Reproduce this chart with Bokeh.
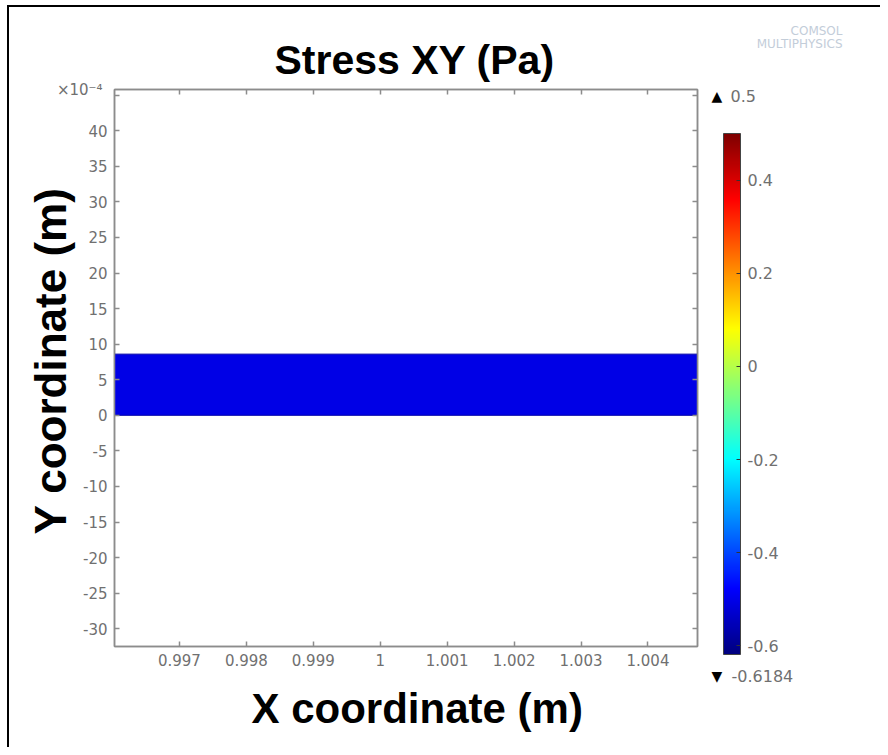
import numpy as np
from bokeh.plotting import figure
from bokeh.models import (LinearAxis, FixedTicker, CustomJSTickFormatter, ColorBar,
                          LinearColorMapper, Label, Range1d, Title)
from bokeh.embed import file_html
from bokeh.resources import INLINE

# ---------------- data ----------------
title_text = "Stress XY (Pa)"
x_label = "X coordinate (m)"
y_label = "Y coordinate (m)"
y_exponent = "×10⁻⁴"
watermark = "COMSOL\nMULTIPHYSICS"

x_ticks = [0.997, 0.998, 0.999, 1.0, 1.001, 1.002, 1.003, 1.004]
y_ticks = [-30, -25, -20, -15, -10, -5, 0, 5, 10, 15, 20, 25, 30, 35, 40, 45]  # ×1e-4 m
x_view = [0.99603, 1.00474]
y_view = [-32.5, 45.8]  # ×1e-4 m

beam_left = [0.995]
beam_right = [1.005]
beam_bottom = [0.0]
beam_top = [8.6]  # ×1e-4 m
beam_color = "#0000e6"

stress_min = -0.6184
stress_max = 0.5
cbar_ticks = [-0.6, -0.4, -0.2, 0.0, 0.2, 0.4]
stress_max_label = "0.5"
stress_min_label = "-0.6184"

GRAY = "#707070"
LINE = "#8c8c8c"


def jet(n=256):
    cols = []
    for i in range(n):
        t = i / (n - 1)
        r = np.clip(1.5 - abs(4 * t - 3), 0, 1)
        g = np.clip(1.5 - abs(4 * t - 2), 0, 1)
        b = np.clip(1.5 - abs(4 * t - 1), 0, 1)
        cols.append("#%02x%02x%02x" % (int(r * 255), int(g * 255), int(b * 255)))
    return cols


p = figure(width=880, height=747,
           x_range=Range1d(*x_view), y_range=Range1d(*y_view),
           output_backend="svg", toolbar_location=None,
           min_border_left=114, min_border_right=183,
           min_border_top=88, min_border_bottom=101,
           title=None)
p.styles = {"background": "linear-gradient(#000,#000) 7px 5px / 2px 100% no-repeat, "
                          "linear-gradient(#000,#000) 7px 5px / 100% 2px no-repeat, #fff"}
p.grid.visible = False
p.outline_line_color = LINE
p.outline_line_width = 1.5
p.background_fill_color = "white"
p.border_fill_color = None

def style_axis(ax, ticks):
    ax.ticker = FixedTicker(ticks=ticks)
    ax.major_tick_in = 5
    ax.major_tick_out = 0
    ax.minor_tick_line_color = None
    ax.major_tick_line_color = LINE
    ax.major_tick_line_width = 1.5
    ax.axis_line_color = LINE
    ax.axis_line_width = 1.5
    ax.major_label_text_font = "DejaVu Sans"
    ax.major_label_text_font_size = "15px"
    ax.major_label_text_color = GRAY
    ax.major_label_standoff = 7

style_axis(p.xaxis[0], x_ticks)
style_axis(p.yaxis[0], y_ticks)
p.xaxis[0].formatter = CustomJSTickFormatter(code="return parseFloat(tick.toFixed(3)).toString();")
p.yaxis[0].formatter = CustomJSTickFormatter(code="return tick > 44 ? '' : tick.toFixed(0);")

top_ax = LinearAxis()
style_axis(top_ax, x_ticks)
top_ax.major_label_text_font_size = "0px"
top_ax.major_label_standoff = 0
top_ax.formatter = CustomJSTickFormatter(code="return '';")
p.add_layout(top_ax, "above")

right_ax = LinearAxis()
style_axis(right_ax, y_ticks)
right_ax.major_label_text_font_size = "0px"
right_ax.major_label_standoff = 0
right_ax.formatter = CustomJSTickFormatter(code="return '';")
p.add_layout(right_ax, "right")

# titles
p.add_layout(Title(text=title_text, align="left", offset=160, standoff=14,
                   text_font="Liberation Sans", text_font_size="41px",
                   text_font_style="bold", text_color="black"), "above")
p.add_layout(Title(text=x_label, align="left", offset=137, standoff=28,
                   text_font="Liberation Sans", text_font_size="42px",
                   text_font_style="bold", text_color="black"), "below")
p.add_layout(Title(text=y_label, align="left", offset=112, standoff=12,
                   text_font="Liberation Sans", text_font_size="44px",
                   text_font_style="bold", text_color="black"), "left")

# beam
p.quad(left=beam_left, right=beam_right, bottom=beam_bottom, top=beam_top,
       fill_color=beam_color, line_color="#0000a8", line_width=1)

# colour bar
mapper = LinearColorMapper(palette=jet(256), low=stress_min, high=stress_max)
cb = ColorBar(color_mapper=mapper, ticker=FixedTicker(ticks=cbar_ticks),
              formatter=CustomJSTickFormatter(code="return (Math.round(tick*10)/10).toString();"),
              width=17, height=521, padding=0, location=(609, -8),
              orientation="vertical",
              major_label_text_font="DejaVu Sans", major_label_text_font_size="16px",
              major_label_text_color=GRAY, label_standoff=7,
              major_tick_line_color="#333333", major_tick_in=4,
              minor_tick_line_color=None,
              bar_line_color="#444444", bar_line_width=1,
              background_fill_alpha=0, border_line_color=None)
p.add_layout(cb, "center")

def lab(text, x, y, dx, dy, size, color, align="left"):
    return Label(x=x, y=y, x_offset=dx, y_offset=dy, text=text,
                 text_align=align, text_baseline="middle",
                 text_font="DejaVu Sans", text_font_size=size, text_color=color)

# exponent label
p.add_layout(lab(y_exponent, x_view[0], y_view[1], -12, 0, "15px", GRAY, "right"), "right")

# extremes of the colour range
p.add_layout(lab("▲", x_view[1], y_view[1], 14, -6, "14px", "black"), "right")
p.add_layout(lab(stress_max_label, x_view[1], y_view[1], 33, -6, "16px", GRAY), "right")
p.add_layout(lab("▼", x_view[1], y_view[0], 14, -29, "14px", "black"), "right")
p.add_layout(lab(stress_min_label, x_view[1], y_view[0], 34, -29, "16px", GRAY), "right")

# watermark
wm = lab(watermark, x_view[1], y_view[1], 145, 52, "12px", "#c3cdd9", "right")
wm.text_line_height = 0.95
p.add_layout(wm, "above")

open("out.html", "w").write(file_html(p, INLINE))
